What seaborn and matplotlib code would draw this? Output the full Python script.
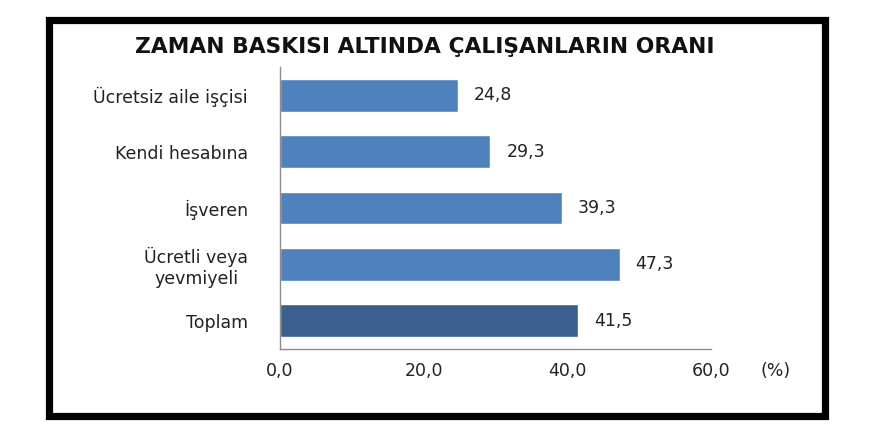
import pandas as pd
import matplotlib
matplotlib.use("Agg")
import matplotlib.pyplot as plt
import seaborn as sns
from matplotlib.patches import Rectangle
from matplotlib.ticker import FixedLocator

# chart data
categories = ["Ücretsiz aile işçisi", "Kendi hesabına", "İşveren",
              "Ücretli veya\nyevmiyeli", "Toplam"]
values = [24.8, 29.3, 39.3, 47.3, 41.5]
bar_colors = ["#4F81BD", "#4F81BD", "#4F81BD", "#4F81BD", "#3A5F8E"]
x_ticks = [0, 20, 40, 60]
x_tick_labels = ["0,0", "20,0", "40,0", "60,0"]
title = "ZAMAN BASKISI ALTINDA ÇALIŞANLARIN ORANI"

sns.set_style("white")
plt.rcParams["font.family"] = ["DejaVu Sans"]

df = pd.DataFrame({"kategori": categories, "oran": values})

fig = plt.figure(figsize=(8.8, 4.4), dpi=100)
ax = fig.add_axes([280 / 880, 1 - 349 / 440, 431 / 880, 282 / 440])

sns.barplot(data=df, x="oran", y="kategori", hue="kategori",
            palette=bar_colors, orient="h", width=0.58, legend=False,
            saturation=1, ax=ax)

ax.set_xlim(0, 60)
ax.set_ylim(4.5, -0.5)
ax.set_xticks(x_ticks)
ax.set_xticklabels(x_tick_labels)
ax.set_xlabel("")
ax.set_ylabel("")

# value labels
for i, v in enumerate(values):
    ax.text(v + 2.2, i, f"{v:.1f}".replace(".", ","), va="center", ha="left",
            fontsize=12.5, color="#222222")

# axes styling
for s in ["top", "right"]:
    ax.spines[s].set_visible(False)
for s in ["left", "bottom"]:
    ax.spines[s].set_color("#8C8C8C")
    ax.spines[s].set_linewidth(1.0)

ax.yaxis.set_minor_locator(FixedLocator([-0.5, 0.5, 1.5, 2.5, 3.5, 4.5]))
ax.tick_params(axis="y", which="major", length=0, pad=23, labelsize=12.5,
               labelcolor="#222222")
ax.tick_params(axis="y", which="minor", length=6, color="#8C8C8C", direction="out")
ax.tick_params(axis="x", which="major", length=4, color="#8C8C8C", direction="out",
               pad=5, labelsize=12.5, labelcolor="#222222")
for lbl in ax.get_yticklabels():
    lbl.set_horizontalalignment("right")
    lbl.set_multialignment("center")

ax.text((776 - 280) / 431, (349 - 371) / 282, "(%)", transform=ax.transAxes,
        ha="center", va="center", fontsize=12.5, color="#222222")

fig.text(425 / 880, 1 - 47 / 440, title, ha="center", va="center",
         fontsize=15.7, fontweight="bold", color="#111111")

# black frame around the chart
fig.patches.append(Rectangle((49 / 880, 1 - 416 / 440), 776 / 880, 396 / 440,
                             transform=fig.transFigure, fill=False,
                             edgecolor="black", linewidth=5.2, zorder=10))

fig.savefig("out.png", dpi=100, facecolor="white")
